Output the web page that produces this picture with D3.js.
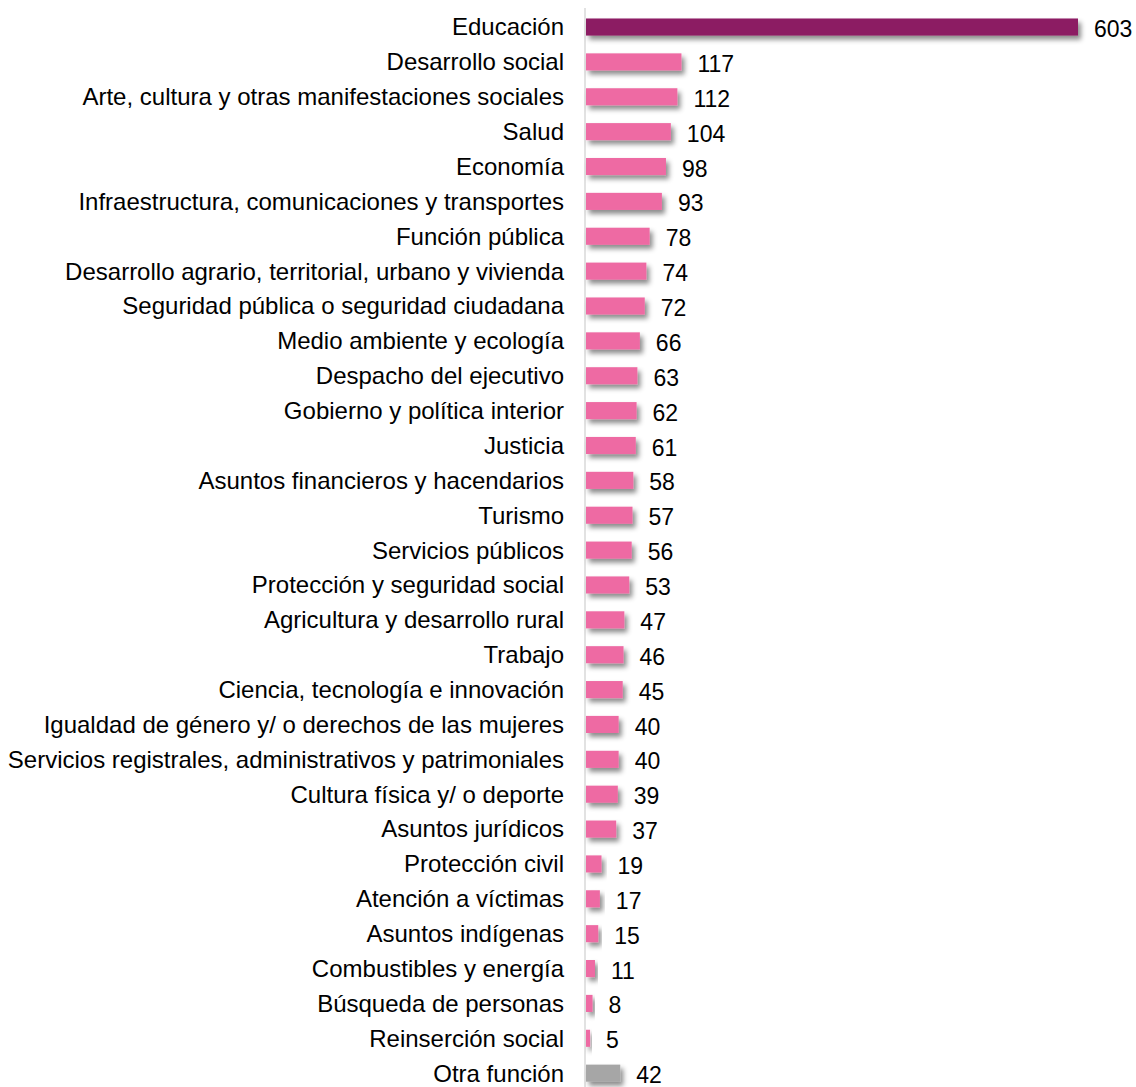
<!DOCTYPE html>
<html><head><meta charset="utf-8">
<script src="https://cdn.jsdelivr.net/npm/d3@7"></script>
<style>body{margin:0;background:#fff}svg{display:block}text{font-family:"Liberation Sans",Arial,sans-serif}</style>
</head><body>
<script>
const categories = ["Educación","Desarrollo social","Arte, cultura y otras manifestaciones sociales","Salud","Economía","Infraestructura, comunicaciones y transportes","Función pública","Desarrollo agrario, territorial, urbano y vivienda","Seguridad pública o seguridad ciudadana","Medio ambiente y ecología","Despacho del ejecutivo","Gobierno y política interior","Justicia","Asuntos financieros y hacendarios","Turismo","Servicios públicos","Protección y seguridad social","Agricultura y desarrollo rural","Trabajo","Ciencia, tecnología e innovación","Igualdad de género y/ o derechos de las mujeres","Servicios registrales, administrativos y patrimoniales","Cultura física y/ o deporte","Asuntos jurídicos","Protección civil","Atención a víctimas","Asuntos indígenas","Combustibles y energía","Búsqueda de personas","Reinserción social","Otra función"];
const values = [603,117,112,104,98,93,78,74,72,66,63,62,61,58,57,56,53,47,46,45,40,40,39,37,19,17,15,11,8,5,42];
const colorKind = categories.map((c,i)=> i===0 ? "top" : (c==="Otra función" ? "other" : "base"));
const colors = {top:"#8C1A63", base:"#EE6AA3", other:"#A6A6A6"};

const W=1136,H=1087, x0=586;
const svg=d3.select("body").append("svg").attr("width",W).attr("height",H);
const defs=svg.append("defs");
const f=defs.append("filter").attr("id","sh").attr("x","-20%").attr("y","-50%").attr("width","150%").attr("height","250%");
f.append("feDropShadow").attr("dx",3).attr("dy",4).attr("stdDeviation",2.5).attr("flood-color","#000").attr("flood-opacity",0.45);

const x=d3.scaleLinear().domain([0,603]).range([x0,1078]);
const y=d3.scaleBand().domain(categories).range([9.6,1090.6]).paddingInner(0.51).paddingOuter(0.255);

svg.append("line").attr("x1",x0-1).attr("x2",x0-1).attr("y1",8).attr("y2",H).attr("stroke","#d9d9d9").attr("stroke-width",1.5);

const data=categories.map((c,i)=>({c,v:values[i],k:colorKind[i]}));
svg.append("g").selectAll("rect").data(data).join("rect")
 .attr("x",x(0)).attr("y",d=>y(d.c)).attr("width",d=>x(d.v)-x(0)).attr("height",y.bandwidth())
 .attr("fill",d=>colors[d.k]).attr("filter","url(#sh)");

svg.append("g").selectAll("text").data(data).join("text")
 .attr("x",x0-22).attr("y",d=>y(d.c)+y.bandwidth()/2).attr("dy","0.35em").attr("text-anchor","end")
 .attr("font-size",24).attr("fill","#000").text(d=>d.c);

svg.append("g").selectAll("text").data(data).join("text")
 .attr("x",d=>x(d.v)+16).attr("y",d=>y(d.c)+y.bandwidth()/2+2).attr("dy","0.35em")
 .attr("font-size",23).attr("fill","#000").text(d=>d.v);
</script>
</body></html>
